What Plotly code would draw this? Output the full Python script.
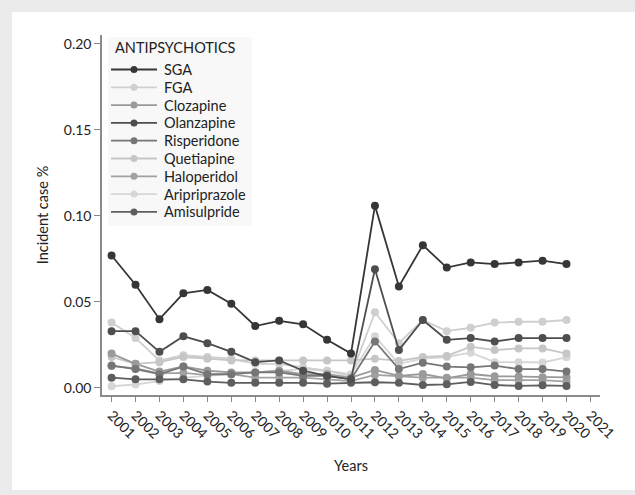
import plotly.graph_objects as go

years = list(range(2001, 2021))
tick_years = list(range(2001, 2022))

sga = [0.077, 0.060, 0.040, 0.055, 0.057, 0.049, 0.036, 0.039, 0.037, 0.028,
       0.020, 0.106, 0.059, 0.083, 0.070, 0.073, 0.072, 0.073, 0.074, 0.072]
fga = [0.038, 0.029, 0.016, 0.019, 0.018, 0.017, 0.014, 0.014, 0.012, 0.010,
       0.007, 0.044, 0.026, 0.0395, 0.033, 0.035, 0.038, 0.0385, 0.0385, 0.0395]
clozapine = [0.020, 0.014, 0.0095, 0.0125, 0.010, 0.009, 0.009, 0.010, 0.008, 0.008,
             0.006, 0.0105, 0.007, 0.0081, 0.0056, 0.0081, 0.0068, 0.0066, 0.0062, 0.0062]
olanzapine = [0.033, 0.033, 0.021, 0.030, 0.026, 0.021, 0.015, 0.016, 0.010, 0.007,
              0.005, 0.069, 0.022, 0.0395, 0.028, 0.029, 0.027, 0.029, 0.029, 0.029]
risperidone = [0.013, 0.011, 0.008, 0.0124, 0.008, 0.008, 0.009, 0.009, 0.007, 0.007,
               0.005, 0.027, 0.011, 0.0147, 0.0124, 0.012, 0.013, 0.011, 0.011, 0.0095]
quetiapine = [0.018, 0.014, 0.015, 0.018, 0.017, 0.016, 0.016, 0.016, 0.016, 0.016,
              0.016, 0.017, 0.0157, 0.018, 0.0186, 0.024, 0.022, 0.023, 0.023, 0.020]
haloperidol = [0.0128, 0.0114, 0.0085, 0.0088, 0.0075, 0.008, 0.006, 0.006, 0.006, 0.005,
               0.004, 0.0076, 0.007, 0.006, 0.006, 0.006, 0.0045, 0.0045, 0.0045, 0.0037]
aripriprazole = [0.001, 0.002, 0.004, 0.006, 0.007, 0.008, 0.009, 0.010, 0.011, 0.010,
                 0.008, 0.030, 0.014, 0.017, 0.018, 0.0205, 0.015, 0.015, 0.0148, 0.0178]
amisulpride = [0.006, 0.005, 0.005, 0.005, 0.0037, 0.003, 0.003, 0.003, 0.003, 0.0025,
               0.003, 0.0033, 0.003, 0.0017, 0.0021, 0.0035, 0.0017, 0.0012, 0.0015, 0.0012]

series = [
    ("SGA", sga, "#363636"),
    ("FGA", fga, "#cfcfcf"),
    ("Clozapine", clozapine, "#9a9a9a"),
    ("Olanzapine", olanzapine, "#4e4e4e"),
    ("Risperidone", risperidone, "#767676"),
    ("Quetiapine", quetiapine, "#c6c6c6"),
    ("Haloperidol", haloperidol, "#a2a2a2"),
    ("Aripriprazole", aripriprazole, "#d6d6d6"),
    ("Amisulpride", amisulpride, "#5e5e5e"),
]

FONT = "Lato"
W, H = 635, 495
ML, MR, MT, MB = 102, 35, 35, 100
PW, PH = W - ML - MR, H - MT - MB


def px_x(px):
    return (px - ML) / PW


def px_y(py):
    return (H - MB - py) / PH


fig = go.Figure()
# lighter series first so the darker lines sit on top
order = sorted(range(len(series)), key=lambda i: -int(series[i][2][1:3], 16))
for i in order:
    name, vals, col = series[i]
    fig.add_trace(go.Scatter(
        x=years, y=vals, name=name, mode="lines+markers",
        line=dict(color=col, width=1.8),
        marker=dict(color=col, size=8),
        showlegend=False,
    ))

# white panel inside the grey frame
fig.add_shape(type="rect", xref="paper", yref="paper",
              x0=px_x(12), x1=px_x(W), y0=px_y(490), y1=px_y(12),
              fillcolor="white", line=dict(width=0), layer="below")

# compact legend block: title, then one row per series
LEG_X0, LEG_TITLE_Y, ROW0, ROW_STEP = 111, 48, 69.5, 17.8
LEG_FONT = 14.5
fig.add_shape(type="rect", xref="paper", yref="paper",
              x0=px_x(108), x1=px_x(252), y0=px_y(226), y1=px_y(37),
              fillcolor="rgba(242,242,242,0.55)", line=dict(width=0), layer="below")
annotations = [dict(
    text="ANTIPSYCHOTICS", xref="paper", yref="paper",
    x=px_x(114), y=px_y(LEG_TITLE_Y), xanchor="left", yanchor="middle",
    borderpad=0, showarrow=False,
    font=dict(family=FONT, size=LEG_FONT, color="#222"))]
for k, (name, vals, col) in enumerate(series):
    yy = ROW0 + ROW_STEP * k
    fig.add_shape(type="line", xref="paper", yref="paper",
                  x0=px_x(LEG_X0), x1=px_x(LEG_X0 + 46), y0=px_y(yy), y1=px_y(yy),
                  line=dict(color=col, width=1.8))
    fig.add_shape(type="circle", xref="paper", yref="paper",
                  x0=px_x(LEG_X0 + 23 - 3.5), x1=px_x(LEG_X0 + 23 + 3.5),
                  y0=px_y(yy + 3.5), y1=px_y(yy - 3.5),
                  fillcolor=col, line=dict(width=0))
    annotations.append(dict(
        text=name, xref="paper", yref="paper",
        x=px_x(LEG_X0 + 52), y=px_y(yy), xanchor="left", yanchor="middle",
        borderpad=0, showarrow=False,
        font=dict(family=FONT, size=LEG_FONT, color="#222")))

fig.update_layout(
    width=W, height=H,
    margin=dict(l=ML, r=MR, t=MT, b=MB),
    paper_bgcolor="#ebebeb",
    plot_bgcolor="rgba(0,0,0,0)",
    font=dict(family=FONT, size=14, color="#222"),
    showlegend=False,
    annotations=annotations,
    xaxis=dict(
        range=[2000.6, 2021.4],
        tickmode="array", tickvals=tick_years, ticktext=[str(y) for y in tick_years],
        tickangle=45, ticks="outside", ticklen=5, tickcolor="#888",
        showline=True, linecolor="#8a8a8a", linewidth=1.5,
        showgrid=False, zeroline=False,
        tickfont=dict(size=14, color="#222"),
        title=dict(text="Years", font=dict(size=14.5, color="#222"), standoff=20),
    ),
    yaxis=dict(
        range=[-0.0041, 0.2052],
        tickvals=[0, 0.05, 0.10, 0.15, 0.20], tickformat=".2f",
        ticks="outside", ticklen=6, tickcolor="#888",
        showline=True, linecolor="#8a8a8a", linewidth=1.5,
        showgrid=False, zeroline=False,
        tickfont=dict(size=14, color="#222"),
        title=dict(text="Incident case %", font=dict(size=14.5, color="#222"), standoff=12),
    ),
)

fig.write_html("out.html")
